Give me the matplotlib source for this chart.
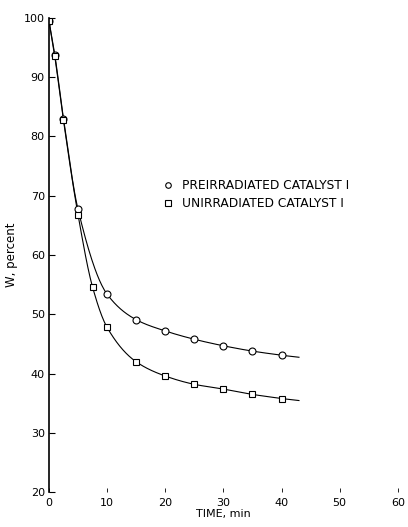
import matplotlib
matplotlib.use("Agg")
import matplotlib.pyplot as plt
import numpy as np

# data
t_pre = [0, 1, 2.5, 5, 10, 15, 20, 25, 30, 35, 40]
w_pre = [99.5, 93.8, 83.0, 67.7, 53.4, 49.1, 47.2, 45.8, 44.7, 43.8, 43.1]
t_unirr = [0, 1, 2.5, 5, 7.5, 10, 15, 20, 25, 30, 35, 40]
w_unirr = [99.5, 93.5, 82.7, 66.8, 54.6, 47.8, 42.0, 39.6, 38.2, 37.4, 36.5, 35.8]
curve_end = 43
xticks = [0, 10, 20, 30, 40, 50, 60]
yticks = [20, 30, 40, 50, 60, 70, 80, 90, 100]

plt.rcParams['font.family'] = ['DejaVu Sans']


def smooth(x, y, xend, n=300):
    # monotone cubic hermite through the measured points, for the drawn curve
    x = np.asarray(x, float)
    y = np.asarray(y, float)
    h = np.diff(x)
    d = np.diff(y) / h
    m = np.zeros_like(y)
    m[0] = d[0]
    m[-1] = d[-1]
    for i in range(1, len(x) - 1):
        if d[i - 1] * d[i] <= 0:
            m[i] = 0
        else:
            w1 = 2 * h[i] + h[i - 1]
            w2 = h[i] + 2 * h[i - 1]
            m[i] = (w1 + w2) / (w1 / d[i - 1] + w2 / d[i])
    xs = np.linspace(x[0], x[-1], n)
    k = np.clip(np.searchsorted(x, xs) - 1, 0, len(x) - 2)
    s = (xs - x[k]) / h[k]
    h00 = 2 * s**3 - 3 * s**2 + 1
    h10 = s**3 - 2 * s**2 + s
    h01 = -2 * s**3 + 3 * s**2
    h11 = s**3 - s**2
    ys = h00 * y[k] + h10 * h[k] * m[k] + h01 * y[k + 1] + h11 * h[k] * m[k + 1]
    # short extension past the last point
    xe = np.linspace(x[-1], xend, 10)
    ye = y[-1] + m[-1] * (xe - x[-1]) * 0.8
    return np.concatenate([xs, xe]), np.concatenate([ys, ye])


fig = plt.figure(figsize=(4.08, 5.27), dpi=100)
ax = fig.add_axes([0.12, 0.066, 0.855, 0.9])

xc, yc = smooth(t_pre, w_pre, curve_end)
ax.plot(xc, yc, color='black', lw=0.8)
xc, yc = smooth(t_unirr, w_unirr, curve_end)
ax.plot(xc, yc, color='black', lw=0.8)

ax.plot(t_pre, w_pre, 'o', ms=5, mfc='white', mec='black', mew=0.8,
        label='PREIRRADIATED CATALYST I')
ax.plot(t_unirr, w_unirr, 's', ms=5, mfc='white', mec='black', mew=0.8,
        label='UNIRRADIATED CATALYST I')

ax.set_xlim(0, 60)
ax.set_ylim(20, 100)
ax.set_xticks(xticks)
ax.set_yticks(yticks)
ax.spines['top'].set_visible(False)
ax.spines['right'].set_visible(False)
ax.spines['bottom'].set_visible(False)
ax.tick_params(axis='y', direction='in', length=4, width=0.8, labelsize=8, pad=3)
ax.tick_params(axis='x', direction='in', length=3, width=0.6, labelsize=8, pad=4)
ax.spines['left'].set_linewidth(1.2)
ax.set_xlabel('TIME, min', fontsize=8, labelpad=1)
ax.set_ylabel('W, percent', fontsize=8.5, labelpad=4)

ax.legend(loc='center left', bbox_to_anchor=(0.33, 0.627), frameon=False,
          fontsize=8.8, handlelength=0.7, handletextpad=0.8, labelspacing=0.4,
          borderpad=0, borderaxespad=0, markerscale=0.8)

fig.savefig('out.png', dpi=100)
